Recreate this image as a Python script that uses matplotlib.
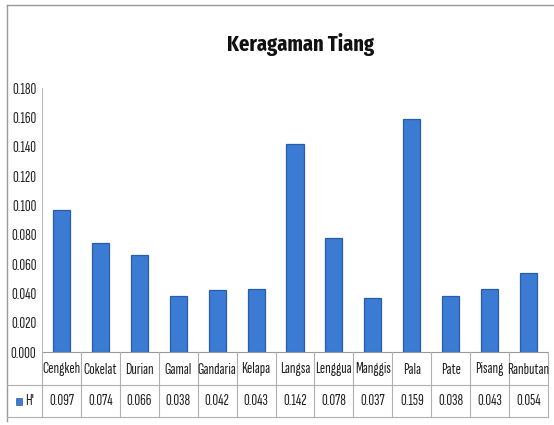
import matplotlib.pyplot as plt
from matplotlib.patches import Rectangle
from matplotlib.lines import Line2D

# data
jenis = ["Cengkeh", "Cokelat", "Durian", "Gamal", "Gandaria", "Kelapa", "Langsa",
         "Lenggua", "Manggis", "Pala", "Pate", "Pisang", "Ranbutan"]
nilai_h = [0.097, 0.074, 0.066, 0.038, 0.042, 0.043, 0.142,
           0.078, 0.037, 0.159, 0.038, 0.043, 0.054]
yticks = [0.0, 0.02, 0.04, 0.06, 0.08, 0.10, 0.12, 0.14, 0.16, 0.18]

plt.rcParams['font.family'] = ['Sofia Sans Extra Condensed', 'DejaVu Sans']

W, H = 554, 425
fig = plt.figure(figsize=(W / 100, H / 100), dpi=100)

# axes position in pixels
x0, x1 = 42, 548
yb, yt = 352, 88
ax = fig.add_axes([x0 / W, 1 - yb / H, (x1 - x0) / W, (yb - yt) / H])

xs = list(range(len(jenis)))
ax.bar(xs, nilai_h, width=0.44, color='#3b7bd4', edgecolor='#2a5ca8', linewidth=0.9)
ax.set_xlim(-0.5, len(jenis) - 0.5)
ax.set_ylim(0, 0.18)
ax.set_yticks(yticks)
ax.set_yticklabels(["%.3f" % v for v in yticks], fontsize=11.5, color='#222222')
ax.tick_params(axis='y', length=0, pad=4)
ax.set_xticks([])
for s in ['top', 'right']:
    ax.spines[s].set_visible(False)
ax.spines['left'].set_color('#bbbbbb')
ax.spines['bottom'].set_color('#999999')

# title (bold condensed)
fig.text(301 / W, 1 - 45 / H, "Keragaman Tiang", ha='center', va='center',
         fontsize=16, fontweight='bold', color='#111111',
         family=['Fira Sans Extra Condensed', 'DejaVu Sans'])

# chart border
fig.add_artist(Line2D([7 / W, 1], [1 - 5 / H, 1 - 5 / H], color='#999999', lw=1.0))
fig.add_artist(Line2D([7 / W, 7 / W], [1 - 5 / H, 1 - 421 / H], color='#999999', lw=1.0))

# data table
r_mid, r_bot = 385, 417
def fy(p):
    return 1 - p / H
def fx(p):
    return p / W
grid = '#b0b0b0'
colw = (x1 - x0) / len(jenis)
for i in range(len(jenis) + 1):
    xx = x0 + i * colw
    fig.add_artist(Line2D([fx(xx), fx(xx)], [fy(yb), fy(r_bot)], color=grid, lw=0.8))
fig.add_artist(Line2D([fx(7), fx(x1)], [fy(r_mid), fy(r_mid)], color=grid, lw=0.8))
fig.add_artist(Line2D([fx(7), fx(x1)], [fy(r_bot), fy(r_bot)], color=grid, lw=0.8))
for i, (j, v) in enumerate(zip(jenis, nilai_h)):
    cx = x0 + (i + 0.5) * colw
    fig.text(fx(cx), fy((yb + r_mid) / 2 + 1), j, ha='center', va='center',
             fontsize=11.5, color='#222222')
    fig.text(fx(cx), fy((r_mid + r_bot) / 2), "%.3f" % v, ha='center', va='center',
             fontsize=11.5, color='#222222')

# legend key in table
fig.add_artist(Rectangle((fx(16), fy(405)), 6 / W, 7 / H, facecolor='#3b7bd4',
                         edgecolor='#2a5ca8', lw=0.5))
fig.text(fx(25), fy(401), "H'", ha='left', va='center', fontsize=11.5, color='#222222')

fig.savefig("out.png", dpi=100)
